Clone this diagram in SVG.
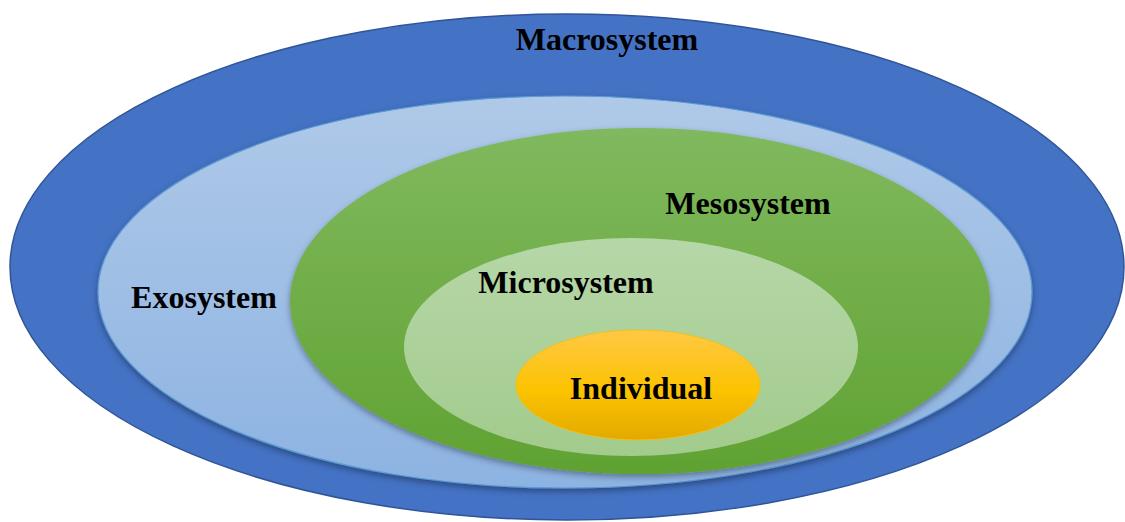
<svg xmlns="http://www.w3.org/2000/svg" width="1125" height="522" viewBox="0 0 1125 522">
  <defs>
    <linearGradient id="gExo" x1="0" y1="0" x2="0" y2="1">
      <stop offset="0" stop-color="#AFC9E8"/>
      <stop offset="1" stop-color="#8DB3E2"/>
    </linearGradient>
    <linearGradient id="gMeso" x1="0" y1="0" x2="0" y2="1">
      <stop offset="0" stop-color="#80B95E"/>
      <stop offset="1" stop-color="#60A232"/>
    </linearGradient>
    <linearGradient id="gMicro" x1="0" y1="0" x2="0" y2="1">
      <stop offset="0" stop-color="#B6D7A8"/>
      <stop offset="1" stop-color="#A2CB8C"/>
    </linearGradient>
    <linearGradient id="gInd" x1="0" y1="0" x2="0" y2="1">
      <stop offset="0" stop-color="#FFC845"/>
      <stop offset="0.55" stop-color="#FCC300"/>
      <stop offset="1" stop-color="#E2AA00"/>
    </linearGradient>
    <filter id="shadow" x="-10%" y="-10%" width="120%" height="130%">
      <feGaussianBlur in="SourceAlpha" stdDeviation="3"/>
      <feOffset dx="0" dy="3" result="b"/>
      <feFlood flood-color="#000" flood-opacity="0.35"/>
      <feComposite in2="b" operator="in"/>
      <feMerge><feMergeNode/><feMergeNode in="SourceGraphic"/></feMerge>
    </filter>
  </defs>
  <style>
    .lbl { font-family: "Liberation Serif", "Times New Roman", serif; font-weight: bold; font-size: 32px; fill: #000; }
  </style>

  <g id="macrosystem">
    <ellipse cx="567" cy="267" rx="557" ry="253" fill="#4472C4" stroke="#2F5597" stroke-width="1.5"/>
    <text class="lbl" x="607" y="50" text-anchor="middle">Macrosystem</text>
  </g>

  <g id="exosystem">
    <ellipse cx="565" cy="292" rx="467" ry="196" fill="url(#gExo)" stroke="#5B9BD5" stroke-width="1.2" filter="url(#shadow)"/>
    <text class="lbl" x="204" y="308" text-anchor="middle">Exosystem</text>
  </g>

  <g id="mesosystem">
    <ellipse cx="640" cy="301" rx="350" ry="173" fill="url(#gMeso)" filter="url(#shadow)"/>
    <text class="lbl" x="748" y="214" text-anchor="middle">Mesosystem</text>
  </g>

  <g id="microsystem">
    <ellipse cx="631" cy="347" rx="227" ry="109" fill="url(#gMicro)"/>
    <text class="lbl" x="566" y="293" text-anchor="middle">Microsystem</text>
  </g>

  <g id="individual">
    <ellipse cx="638" cy="385" rx="122" ry="55" fill="url(#gInd)" stroke="#F4C01A" stroke-width="1"/>
    <text class="lbl" x="641" y="399" text-anchor="middle">Individual</text>
  </g>

  <g id="connectors"/>
</svg>
